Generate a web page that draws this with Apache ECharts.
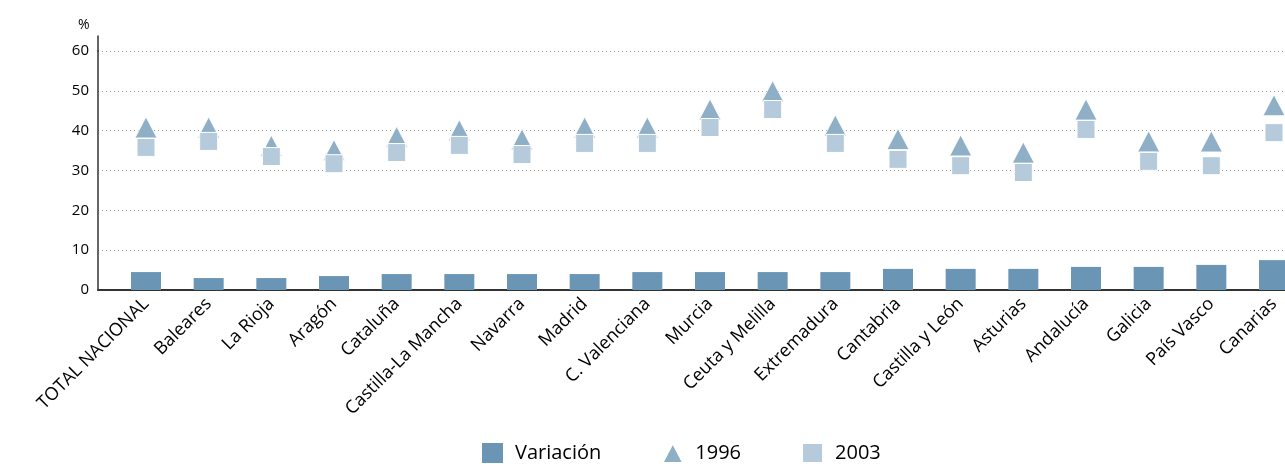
<!DOCTYPE html>
<html>
<head>
<meta charset="utf-8">
<script src="https://cdn.jsdelivr.net/npm/echarts@6/dist/echarts.min.js"></script>
<style>
html,body{margin:0;padding:0;background:#fff;}
#chart{width:1285px;height:464px;}
</style>
</head>
<body>
<div id="chart"></div>
<script>
var categories = ['TOTAL NACIONAL','Baleares','La Rioja','Aragón','Cataluña','Castilla-La Mancha','Navarra','Madrid','C. Valenciana','Murcia','Ceuta y Melilla','Extremadura','Cantabria','Castilla y León','Asturias','Andalucía','Galicia','País Vasco','Canarias'];
var variacion = [4.5,3.0,3.0,3.5,4.0,4.0,4.0,4.0,4.5,4.5,4.5,4.5,5.3,5.3,5.3,5.8,5.8,6.3,7.5];
var v1996 = [40.8,40.8,36.2,35.1,38.4,40.1,37.8,40.8,40.8,45.3,49.9,41.3,37.9,36.3,34.5,45.3,37.3,37.3,46.4];
var v2003 = [35.8,37.3,33.5,31.7,34.5,36.3,34.0,36.8,36.8,40.8,45.3,36.8,32.8,31.2,29.5,40.3,32.3,31.2,39.5];
var yTicks = {min: 0, max: 60, interval: 10};

var FONT = '"Open Sans", "Noto Sans", sans-serif';
var chart = echarts.init(document.getElementById('chart'));
chart.setOption({
  backgroundColor: '#fff',
  animation: false,
  textStyle: {fontFamily: FONT},
  title: {text: '%', left: 73, top: 13, textStyle: {fontSize: 14, fontWeight: 'normal', color: '#000', fontFamily: FONT}},
  grid: [
    {left: 98, right: 0, top: 51, bottom: 174},
    {left: 146, right: 11, top: 51, bottom: 174},
    {left: 98, top: 36, height: 15, width: 10}
  ],
  xAxis: [
    {gridIndex: 0, type: 'value', min: 0, max: 1,
     axisLine: {show: true, onZero: false, lineStyle: {color: '#333', width: 2}},
     axisTick: {show: false}, axisLabel: {show: false}, splitLine: {show: false}},
    {gridIndex: 1, type: 'category', data: categories, boundaryGap: false,
     axisLine: {show: false}, axisTick: {show: false}, splitLine: {show: false},
     axisLabel: {rotate: 45, fontSize: 18, color: '#000', margin: 11, interval: 0, fontFamily: FONT}},
    {gridIndex: 2, type: 'value', show: false}
  ],
  yAxis: [
    {gridIndex: 0, type: 'value', min: yTicks.min, max: yTicks.max, interval: yTicks.interval,
     axisLine: {show: true, lineStyle: {color: '#333', width: 1.5}},
     axisTick: {show: false},
     axisLabel: {fontSize: 15, color: '#000', margin: 9, fontFamily: FONT},
     splitLine: {show: true, lineStyle: {color: '#9a9a9a', type: [1, 3], width: 1}}},
    {gridIndex: 1, type: 'value', min: yTicks.min, max: yTicks.max, show: false},
    {gridIndex: 2, type: 'value', min: 0, max: 1,
     axisLine: {show: true, lineStyle: {color: '#333', width: 1.5}},
     axisTick: {show: false}, axisLabel: {show: false}, splitLine: {show: false}}
  ],
  legend: {
    bottom: -5, left: 477, itemWidth: 21, itemHeight: 20, itemGap: 60,
    textStyle: {fontSize: 20, color: '#000', fontFamily: FONT, padding: [0, 0, 0, 7]},
    data: [
      {name: 'Variación', icon: 'rect'},
      {name: '1996', icon: 'triangle'},
      {name: '2003', icon: 'rect'}
    ]
  },
  series: [
    {name: 'Variación', type: 'bar', xAxisIndex: 1, yAxisIndex: 1, data: variacion,
     barWidth: 30, itemStyle: {color: '#6a95b5'}},
    {name: '1996', type: 'scatter', xAxisIndex: 1, yAxisIndex: 1, data: v1996,
     symbol: 'triangle', symbolSize: [22, 21],
     itemStyle: {color: '#8fafc7', borderColor: '#fff', borderWidth: 0.8, opacity: 1}},
    {name: '2003', type: 'scatter', xAxisIndex: 1, yAxisIndex: 1, data: v2003,
     symbol: 'rect', symbolSize: 18,
     itemStyle: {color: '#b5cadb', borderColor: '#fff', borderWidth: 1, opacity: 1}}
  ]
});
</script>
</body>
</html>
